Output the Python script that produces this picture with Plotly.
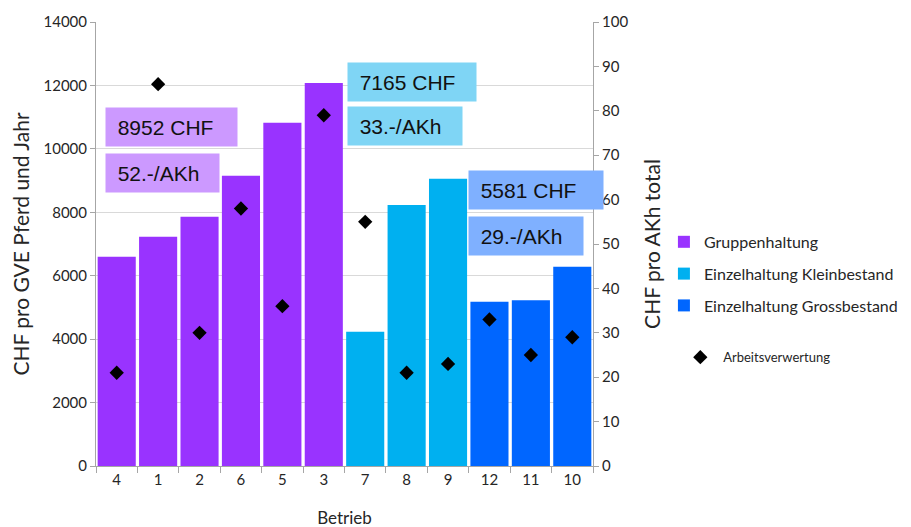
import plotly.graph_objects as go

betriebe = ["4", "1", "2", "6", "5", "3", "7", "8", "9", "12", "11", "10"]
gruppen_betriebe = ["4", "1", "2", "6", "5", "3"]
gruppen_werte = [6600, 7230, 7860, 9150, 10820, 12080]
klein_betriebe = ["7", "8", "9"]
klein_werte = [4230, 8230, 9060]
gross_betriebe = ["12", "11", "10"]
gross_werte = [5180, 5230, 6280]
arbeitsverwertung = [21, 86, 30, 58, 36, 79, 55, 21, 23, 33, 25, 29]

box_texts = ["8952 CHF", "52.-/AKh", "7165 CHF", "33.-/AKh", "5581 CHF", "29.-/AKh"]

c_gruppe = "#9933FF"
c_klein = "#00B0F0"
c_gross = "#0066FF"

font_main = "Lato, 'Open Sans', sans-serif"

fig = go.Figure()
fig.add_trace(go.Bar(x=gruppen_betriebe, y=gruppen_werte, name="Gruppenhaltung",
                     marker=dict(color=c_gruppe, line=dict(width=0)), legendgroup="g1"))
fig.add_trace(go.Bar(x=klein_betriebe, y=klein_werte, name="Einzelhaltung Kleinbestand",
                     marker=dict(color=c_klein, line=dict(width=0)), legendgroup="g2"))
fig.add_trace(go.Bar(x=gross_betriebe, y=gross_werte, name="Einzelhaltung Grossbestand",
                     marker=dict(color=c_gross, line=dict(width=0)), legendgroup="g3"))
fig.add_trace(go.Scatter(x=betriebe, y=arbeitsverwertung, name="&nbsp;Arbeitsverwertung",
                         mode="markers", yaxis="y2", legend="legend2",
                         marker=dict(symbol="diamond", size=11, color="black")))

# annotation boxes (paper coordinates)
boxes = [
    (0.018, 0.7635, 131, 38, "#CC99FF", box_texts[0]),
    (0.018, 0.6600, 113, 38, "#CC99FF", box_texts[1]),
    (0.505, 0.8640, 128, 38, "#7FD5F5", box_texts[2]),
    (0.505, 0.7660, 114, 38, "#7FD5F5", box_texts[3]),
    (0.748, 0.6210, 134, 38, "#7FB0FF", box_texts[4]),
    (0.748, 0.5180, 114, 38, "#7FB0FF", box_texts[5]),
]
for x, y, w, h, col, t in boxes:
    fig.add_annotation(xref="paper", yref="paper", x=x, y=y, xanchor="left", yanchor="middle",
                       text="&nbsp;&nbsp;" + t, showarrow=False, align="left",
                       width=w, height=h, bgcolor=col, borderpad=0,
                       font=dict(family="'Liberation Sans', Arial, sans-serif", size=21, color="#111111"))

fig.update_layout(
    width=911, height=527,
    margin=dict(l=88, r=326, t=14, b=69, autoexpand=False),
    plot_bgcolor="white", paper_bgcolor="white",
    barmode="overlay", bargap=0.08,
    font=dict(family=font_main, size=15, color="#262626"),
    xaxis=dict(type="category", categoryorder="array", categoryarray=betriebe,
               range=[-0.5, 11.5], automargin=False,
               tickson="boundaries", ticks="outside", ticklen=6, tickcolor="#a6a6a6",
               showline=True, linecolor="#a6a6a6", showgrid=False,
               title=dict(text="Betrieb", standoff=25, font=dict(size=17)), tickfont=dict(size=15)),
    yaxis=dict(range=[0, 14000], dtick=2000, tickformat="d", showgrid=True, gridcolor="#d9d9d9",
               showline=True, linecolor="#a6a6a6", ticks="outside", ticklen=5, tickcolor="#a6a6a6",
               automargin=False, tickfont=dict(size=15),
               title=dict(text="CHF pro GVE Pferd und Jahr", standoff=14, font=dict(size=21)),
               zeroline=False),
    yaxis2=dict(range=[0, 100], dtick=10, overlaying="y", side="right", showgrid=False,
                showline=True, linecolor="#a6a6a6", ticks="outside", ticklen=5, tickcolor="#a6a6a6",
                automargin=False, tickfont=dict(size=15),
                title=dict(text="CHF pro AKh total", standoff=18, font=dict(size=21)),
                zeroline=False),
    legend=dict(xref="container", x=0.72, y=0.543, xanchor="left", yanchor="top",
                tracegroupgap=8, font=dict(size=16), itemwidth=30),
    legend2=dict(xref="container", x=0.738, y=0.245, xanchor="left", yanchor="middle",
                 font=dict(size=13), itemwidth=30),
    showlegend=True,
)

fig.write_html("out.html")
